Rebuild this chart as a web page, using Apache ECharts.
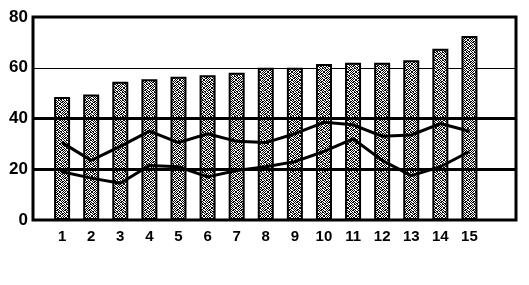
<!DOCTYPE html>
<html>
<head>
<meta charset="utf-8">
<script src="https://cdn.jsdelivr.net/npm/echarts@6/dist/echarts.min.js"></script>
<style>
  html, body { margin: 0; padding: 0; background: #fff; }
  #chart { width: 529px; height: 285px; }
</style>
</head>
<body>
<div id="chart"></div>
<script>
  // values
  var categories = [1, 2, 3, 4, 5, 6, 7, 8, 9, 10, 11, 12, 13, 14, 15];
  var barValues = [48.5, 49.5, 54.5, 55.5, 56.5, 57, 58, 60, 60, 61.5, 62, 62, 63, 67.5, 72.5];
  var upperLine = [30.5, 23.5, 29, 35, 30.5, 34, 31, 30.5, 34, 38.5, 37.5, 33, 33.5, 38, 35];
  var lowerLine = [19, 16.5, 14.5, 21.5, 21, 17, 19.5, 21, 23, 27, 32, 23.5, 17.5, 21, 27];
  var yTicks = [0, 20, 40, 60, 80];
  var heavyLines = [20, 40];

  function pairs(vals) {
    var out = [];
    for (var i = 0; i < categories.length; i++) out.push([categories[i], vals[i]]);
    return out;
  }

  // coarse stipple texture for the bars (1 = black pixel)
  var bitmap = [
    '10011010',
    '01100101',
    '11010010',
    '00101101',
    '10110100',
    '01001011',
    '10100110',
    '01011001'
  ];
  var tex = document.createElement('canvas');
  tex.width = 8; tex.height = 8;
  var tc = tex.getContext('2d');
  tc.fillStyle = '#fff';
  tc.fillRect(0, 0, 8, 8);
  tc.fillStyle = '#000';
  bitmap.forEach(function (row, y) {
    for (var x = 0; x < row.length; x++) if (row[x] === '1') tc.fillRect(x, y, 1, 1);
  });

  var chart = echarts.init(document.getElementById('chart'));
  var font = 'Liberation Sans, Arial, sans-serif';
  var option = {
    backgroundColor: '#fff',
    animation: false,
    grid: {
      left: 33, right: 13, top: 17, bottom: 65,
      show: true, borderColor: '#000', borderWidth: 3, backgroundColor: 'transparent'
    },
    xAxis: {
      type: 'value',
      min: 0, max: 16.6, interval: 1,
      axisLine: { show: false },
      axisTick: { show: false },
      splitLine: { show: false },
      axisLabel: {
        color: '#000', fontSize: 15, fontWeight: 'bold', fontFamily: font, margin: 9,
        showMinLabel: false, showMaxLabel: false,
        formatter: function (v) { return categories.indexOf(v) >= 0 ? String(v) : ''; }
      }
    },
    yAxis: {
      type: 'value',
      min: 0, max: 80, interval: 20,
      axisLine: { show: false },
      axisTick: { show: false },
      splitLine: { show: true, lineStyle: { color: '#000', width: 1 } },
      axisLabel: {
        color: '#000', fontSize: 17, fontWeight: 'bold', fontFamily: font, margin: 5,
        formatter: function (v) { return yTicks.indexOf(v) >= 0 ? String(v) : ''; }
      }
    },
    series: [
      {
        type: 'bar',
        data: pairs(barValues),
        barWidth: 16,
        itemStyle: {
          color: { image: tex, repeat: 'repeat' },
          borderColor: '#000',
          borderWidth: 2
        }
      },
      {
        type: 'line',
        data: pairs(upperLine),
        symbol: 'none',
        z: 5,
        lineStyle: { color: '#000', width: 3 },
        markLine: {
          silent: true,
          symbol: 'none',
          label: { show: false },
          lineStyle: { color: '#000', width: 3, type: 'solid' },
          data: heavyLines.map(function (v) { return { yAxis: v }; })
        }
      },
      {
        type: 'line',
        data: pairs(lowerLine),
        symbol: 'none',
        z: 5,
        lineStyle: { color: '#000', width: 3 }
      }
    ]
  };
  chart.setOption(option);
</script>
</body>
</html>
